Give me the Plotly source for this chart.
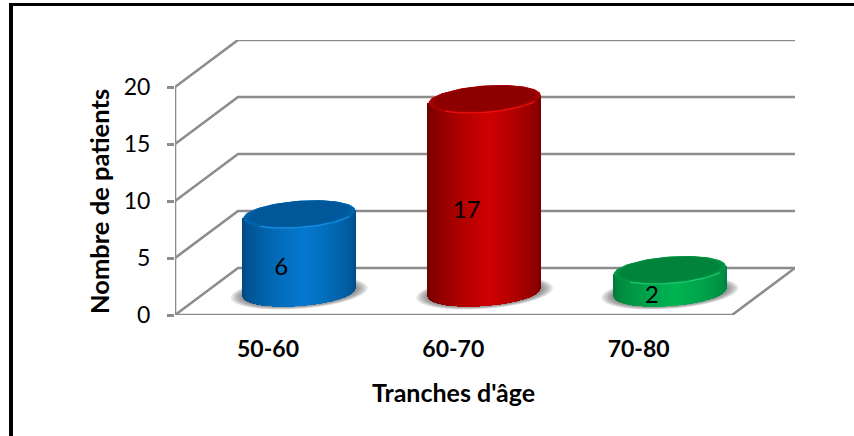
import numpy as np
import plotly.graph_objects as go

categories = ["50-60", "60-70", "70-80"]
bar_heights = [6.9, 17.0, 2.0]      # drawn heights
bar_labels = ["6", "17", "2"]       # printed labels
edge_left = ["#00467F", "#6A0000", "#007A38"]
edge_mid = ["#0479CF", "#CE0000", "#00B452"]
edge_right = ["#004F8C", "#7A0000", "#008540"]
top_rim = ["#0268B0", "#AE0000", "#009A47"]
top_face = ["#00589A", "#8C0000", "#00843C"]
highlight = ["#1C90E0", "#F01010", "#20C870"]
y_ticks = [0, 5, 10, 15, 20]
x_title = "Tranches d'âge"
y_title = "Nombre de patients"

FONT = "Lato, Carlito, Calibri, sans-serif"
GRID = "#8C8C8C"
L, R, T, B = 175, 795, 40, 315
PX_X = 185.3
PX_Y = 11.4
X0 = (L - 268) / PX_X
X1 = (R - 268) / PX_X
Y1 = (B - T) / PX_Y
DX = 63 / PX_X
DY = 47 / PX_Y
CX_SHIFT = 31.3 / PX_X
A = 56 / PX_X
EB = 13.4 / PX_Y
TILT = 4 / PX_Y
FLOOR = 22.2 / PX_Y


def ell(cx, cy, sx=1.0, sy=1.0, n=90):
    th = np.linspace(0, 2 * np.pi, n)
    return cx + A * sx * np.cos(th), cy + EB * sy * np.sin(th) + TILT * sx * np.cos(th)


def to_path(xs, ys):
    return "M " + " L ".join(f"{a:.4f},{b:.4f}" for a, b in zip(xs, ys)) + " Z"


def rgb(h):
    return np.array([int(h[i:i + 2], 16) for i in (1, 3, 5)], float)


def mix(a, b, t):
    c = rgb(a) * (1 - t) + rgb(b) * t
    return f"rgb({c[0]:.0f},{c[1]:.0f},{c[2]:.0f})"


def paper_x(px):
    return (px - L) / (R - L)


def paper_y(px):
    return (B - px) / (B - T)


shapes = []
# black frame
shapes.append(dict(type="line", xref="paper", yref="paper", x0=paper_x(11), x1=paper_x(11),
                   y0=paper_y(436), y1=paper_y(3), line=dict(color="black", width=4)))
shapes.append(dict(type="line", xref="paper", yref="paper", x0=paper_x(9), x1=paper_x(854),
                   y0=paper_y(4.5), y1=paper_y(4.5), line=dict(color="black", width=3)))


def seg(xs, ys):
    shapes.append(dict(type="path", xref="x", yref="y", layer="below",
                       path="M " + " L ".join(f"{a:.4f},{b:.4f}" for a, b in zip(xs, ys)),
                       line=dict(color=GRID, width=2.6)))


for v in y_ticks:
    seg([X0, X0 + DX, X1], [v, v + DY, v + DY])
seg([X0, X0], [0, y_ticks[-1]])
seg([X0, X1 - DX, X1], [0, 0, DY])

# shadows on the floor
for i, h in enumerate(bar_heights):
    cx = i + CX_SHIFT
    for s in np.linspace(1.22, 1.0, 7):
        xs, ys = ell(cx, FLOOR, s, s * 0.98)
        shapes.append(dict(type="path", xref="x", yref="y", layer="below", path=to_path(xs, ys),
                           fillcolor="rgba(70,70,70,0.13)", line=dict(width=0)))

fig = go.Figure()
strip_w = 1.5 / PX_X
for i, h in enumerate(bar_heights):
    cx = i + CX_SHIFT
    offs = np.linspace(-1, 1, 113)
    colors = []
    for d in offs:
        t = (d + 1) / 2
        if t < 0.55:
            u = (t / 0.55) ** 0.6
            colors.append(mix(edge_left[i], edge_mid[i], u))
        else:
            u = ((1 - t) / 0.45) ** 0.6
            colors.append(mix(edge_right[i], edge_mid[i], u))
    bottoms = FLOOR - EB * np.sqrt(1 - offs ** 2) + TILT * offs
    tops = FLOOR + h + TILT * offs
    fig.add_trace(go.Bar(x=cx + offs * A, y=tops - bottoms, base=bottoms, width=strip_w,
                         marker=dict(color=colors, line=dict(width=0)), hoverinfo="skip"))
    ct = FLOOR + h
    xs, ys = ell(cx, ct)
    fig.add_trace(go.Scatter(x=xs, y=ys, mode="lines", fill="toself", fillcolor=top_rim[i],
                             line=dict(width=0, color=top_rim[i]), hoverinfo="skip"))
    for k, s in enumerate(np.linspace(0.985, 0.88, 5)):
        xs, ys = ell(cx, ct + 0.1 * (1 - s) / 0.12 * 0.5, s, s)
        fig.add_trace(go.Scatter(x=xs, y=ys, mode="lines", fill="toself",
                                 fillcolor=mix(top_rim[i], top_face[i], (k + 1) / 5),
                                 line=dict(width=0, color=top_face[i]), hoverinfo="skip"))
    th = np.linspace(np.pi * 1.25, np.pi * 1.85, 40)
    fig.add_trace(go.Scatter(x=cx + A * np.cos(th), y=ct + EB * np.sin(th) + TILT * np.cos(th),
                             mode="lines", line=dict(color=highlight[i], width=1.2), hoverinfo="skip"))

fig.add_trace(go.Scatter(
    x=[i + CX_SHIFT - 18 / PX_X for i in range(3)],
    y=[FLOOR + h / 2 - 16 / PX_Y for h in bar_heights],
    mode="text", text=bar_labels, textposition="middle center",
    textfont=dict(family=FONT, size=24, color="black"), hoverinfo="skip"))

annotations = [
    dict(text=f"<b>{x_title}</b>", xref="paper", yref="paper", x=paper_x(453), y=paper_y(392),
         xanchor="center", yanchor="middle", showarrow=False,
         font=dict(family=FONT, size=25, color="black")),
    dict(text=f"<b>{y_title}</b>", xref="paper", yref="paper", x=paper_x(99), y=paper_y(202),
         xanchor="center", yanchor="middle", showarrow=False, textangle=-90,
         font=dict(family=FONT, size=25.5, color="black")),
]

fig.update_layout(
    width=854, height=436, autosize=False, showlegend=False,
    margin=dict(l=L, r=854 - R, t=T, b=436 - B),
    paper_bgcolor="white", plot_bgcolor="white",
    barmode="overlay", bargap=0, shapes=shapes, annotations=annotations,
    xaxis=dict(range=[X0, X1], tickmode="array", tickvals=[0, 1, 2], ticktext=[f"<b>{c}</b>" for c in categories],
               showgrid=False, zeroline=False, showline=False, ticks="", ticklabelstandoff=18,
               tickfont=dict(family=FONT, size=23, color="black")),
    yaxis=dict(range=[0, Y1], tickmode="array", tickvals=y_ticks,
               showgrid=False, zeroline=False, showline=False, ticks="outside", ticklen=7, tickwidth=2.6,
               tickcolor=GRID, ticklabelstandoff=12,
               tickfont=dict(family=FONT, size=23, color="black")),
)
fig.write_html("out.html", config=dict(displayModeBar=False),
               post_script="document.documentElement.style.margin='0';document.body.style.margin='0';")
